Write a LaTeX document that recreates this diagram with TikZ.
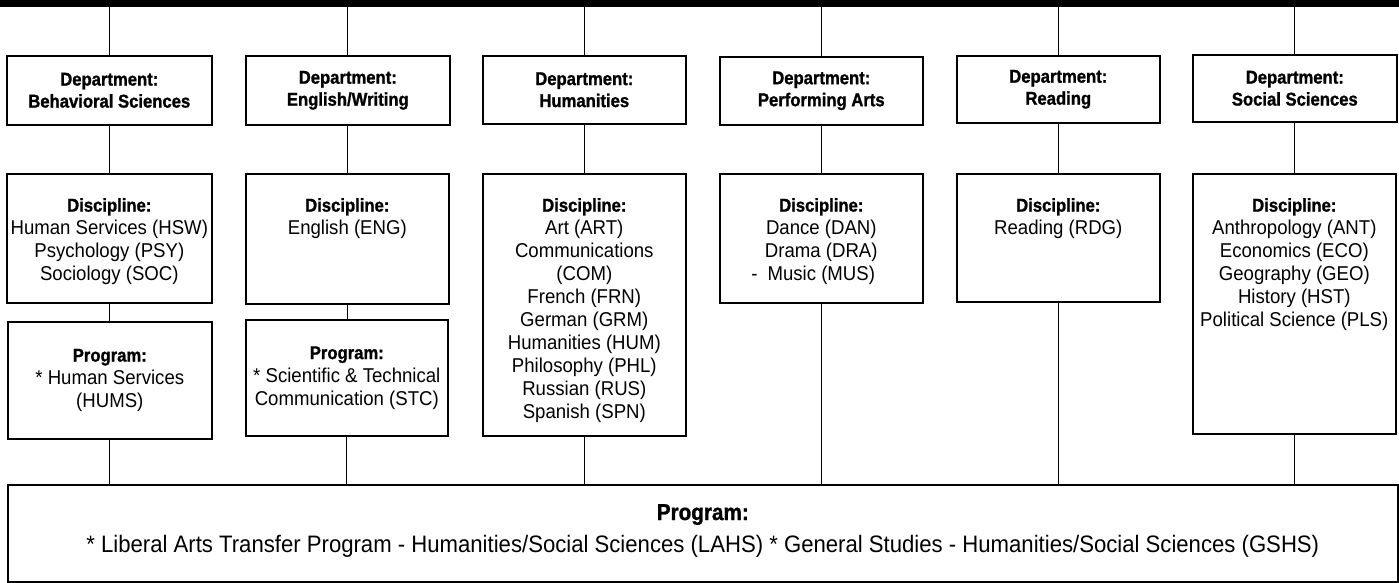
\documentclass[tikz,border=0pt]{standalone}
\usepackage{fontspec}
\setmainfont{Liberation Sans}[FakeStretch=0.93, BoldFeatures={FakeStretch=0.9, FakeBold=1.2}]
\begin{document}
\begin{tikzpicture}[x=1pt,y=-1pt]
\tikzset{
  boxs/.style={draw, line width=1.6pt, inner sep=0pt, anchor=north west},
  wire/.style={line width=1.1pt},
  txt/.style={align=center, inner sep=0pt, font=\fontsize{20}{23}\selectfont},
  hdtxt/.style={align=center, inner sep=0pt, font=\bfseries\fontsize{18.5}{22}\selectfont},
  bartop/.style={fill=black, inner sep=0pt, anchor=north west}
}
\useasboundingbox[fill=white] (0,0) rectangle (1399,583);
% top bar
\node[bartop, minimum width=1399pt, minimum height=6.5pt] (bar) at (0,0) {};
% department boxes
\node[boxs, minimum width=205pt, minimum height=69pt] (dep1) at (6,55) {};
\node[boxs, minimum width=204pt, minimum height=69pt] (dep2) at (245,55) {};
\node[boxs, minimum width=203pt, minimum height=68pt] (dep3) at (482,55) {};
\node[boxs, minimum width=203pt, minimum height=68pt] (dep4) at (719,56) {};
\node[boxs, minimum width=203pt, minimum height=67pt] (dep5) at (956,55) {};
\node[boxs, minimum width=204pt, minimum height=67pt] (dep6) at (1192,54) {};
% discipline boxes
\node[boxs, minimum width=205pt, minimum height=129pt] (dis1) at (6,173) {};
\node[boxs, minimum width=203pt, minimum height=130pt] (dis2) at (245,173) {};
\node[boxs, minimum width=203pt, minimum height=262pt] (dis3) at (482,173) {};
\node[boxs, minimum width=203pt, minimum height=129pt] (dis4) at (719,173) {};
\node[boxs, minimum width=203pt, minimum height=128pt] (dis5) at (956,173) {};
\node[boxs, minimum width=203pt, minimum height=260pt] (dis6) at (1192,173) {};
% program boxes
\node[boxs, minimum width=204pt, minimum height=117pt] (prg1) at (7,321) {};
\node[boxs, minimum width=202pt, minimum height=116pt] (prg2) at (245,319) {};
% bottom program box
\node[boxs, minimum width=1390pt, minimum height=97pt] (all) at (7,484) {};

% texts
\node[hdtxt] (tdep1) at (dep1.center) {Department:\\Behavioral Sciences};
\node[hdtxt] (tdep2) at (dep2.center) {Department:\\English/Writing};
\node[hdtxt] (tdep3) at (dep3.center) {Department:\\Humanities};
\node[hdtxt] (tdep4) at (dep4.center) {Department:\\Performing Arts};
\node[hdtxt] (tdep5) at (dep5.center) {Department:\\Reading};
\node[hdtxt] (tdep6) at (dep6.center) {Department:\\Social Sciences};

\node[txt, anchor=north] (tdis1) at ([yshift=-25pt]dis1.north) {{\bfseries\fontsize{18.5}{23}\selectfont Discipline:}\\Human Services (HSW)\\Psychology (PSY)\\Sociology (SOC)};
\node[txt, anchor=north] (tdis2) at ([yshift=-25pt]dis2.north) {{\bfseries\fontsize{18.5}{23}\selectfont Discipline:}\\English (ENG)};
\node[txt, anchor=north] (tdis3) at ([yshift=-25pt]dis3.north) {{\bfseries\fontsize{18.5}{23}\selectfont Discipline:}\\Art (ART)\\Communications\\(COM)\\French (FRN)\\German (GRM)\\Humanities (HUM)\\Philosophy (PHL)\\Russian (RUS)\\Spanish (SPN)};
\node[txt, anchor=north] (tdis4) at ([yshift=-25pt]dis4.north) {{\bfseries\fontsize{18.5}{23}\selectfont Discipline:}\\Dance (DAN)\\Drama (DRA)\\\llap{-\hspace{10pt}}Music (MUS)};
\node[txt, anchor=north] (tdis5) at ([yshift=-25pt]dis5.north) {{\bfseries\fontsize{18.5}{23}\selectfont Discipline:}\\Reading (RDG)};
\node[txt, anchor=north] (tdis6) at ([yshift=-25pt]dis6.north) {{\bfseries\fontsize{18.5}{23}\selectfont Discipline:}\\Anthropology (ANT)\\Economics (ECO)\\Geography (GEO)\\History (HST)\\Political Science (PLS)};

\node[txt] (tprg1) at (prg1.center) {{\bfseries\fontsize{18.5}{23}\selectfont Program:}\\* Human Services\\(HUMS)};
\node[txt] (tprg2) at (prg2.center) {{\bfseries\fontsize{18.5}{23}\selectfont Program:}\\* Scientific \& Technical\\Communication (STC)};

\node[align=center, inner sep=0pt, anchor=north, font=\fontsize{23.8}{32}\selectfont] (tall) at ([yshift=-20pt]all.north) {{\bfseries\fontsize{23}{32}\selectfont Program:}\\* Liberal Arts Transfer Program - Humanities/Social Sciences (LAHS) * General Studies - Humanities/Social Sciences (GSHS)};

% connectors
\foreach \i in {1,...,6} {
  \draw[wire] (dep\i.north |- bar.south) -- (dep\i.north);
  \draw[wire] (dep\i.south) -- (dep\i.south |- dis\i.north);
}
\draw[wire] (dis1.south) -- (dis1.south |- prg1.north);
\draw[wire] (dis2.south) -- (dis2.south |- prg2.north);
\draw[wire] (prg1.south) -- (prg1.south |- all.north);
\draw[wire] (prg2.south) -- (prg2.south |- all.north);
\foreach \i in {3,...,6} {
  \draw[wire] (dis\i.south) -- (dis\i.south |- all.north);
}
\end{tikzpicture}
\end{document}
